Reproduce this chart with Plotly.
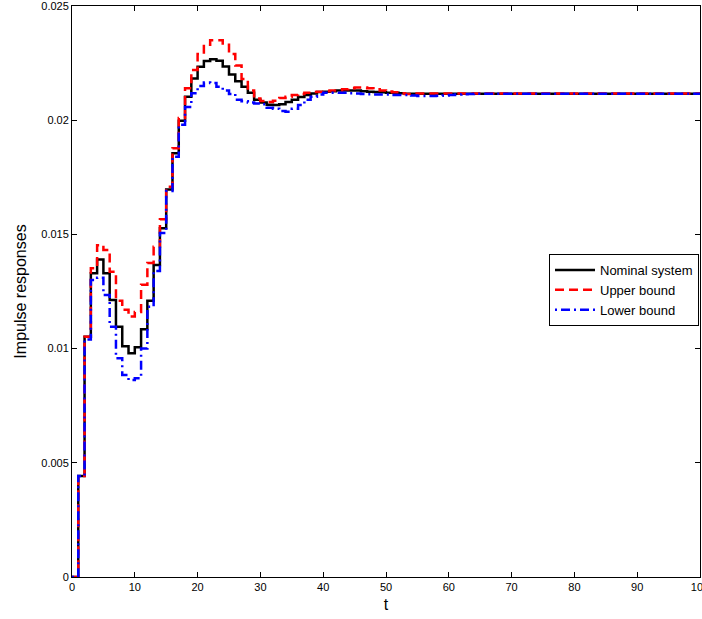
import plotly.graph_objects as go

t = list(range(0, 101))

nominal = [
    0.0, 0.00442, 0.01052, 0.0133, 0.0139, 0.0133, 0.01213, 0.01096, 0.0101, 0.0098,
    0.01006, 0.01085, 0.0121, 0.01366, 0.01527, 0.01697, 0.01855, 0.01998, 0.02103, 0.02183,
    0.02234, 0.02259, 0.02267, 0.0226, 0.02235, 0.022, 0.0217, 0.02147, 0.0212, 0.0209,
    0.02077, 0.02068, 0.02067, 0.0207, 0.0208, 0.0209, 0.02102, 0.0211, 0.02117, 0.02123,
    0.02125, 0.02127, 0.0213, 0.0213, 0.0213, 0.0213, 0.02127, 0.02125, 0.02124, 0.02122,
    0.0212, 0.0212, 0.02118, 0.02116, 0.02116, 0.02116, 0.02116, 0.02116, 0.02116, 0.02116,
    0.02116, 0.02116, 0.02116, 0.02116, 0.02116, 0.02116, 0.02116, 0.02116, 0.02116, 0.02116,
    0.02116, 0.02116, 0.02116, 0.02116, 0.02116, 0.02116, 0.02116, 0.02116, 0.02116, 0.02116,
    0.02116, 0.02116, 0.02116, 0.02116, 0.02116, 0.02116, 0.02116, 0.02116, 0.02116, 0.02116,
    0.02116, 0.02116, 0.02116, 0.02116, 0.02116, 0.02116, 0.02116, 0.02116, 0.02116, 0.02116,
    0.02116,
]

upper = [
    0.0, 0.00442, 0.01052, 0.01352, 0.01453, 0.01432, 0.01337, 0.0121, 0.0117, 0.0114,
    0.0116, 0.0128, 0.01375, 0.01446, 0.01566, 0.01709, 0.01877, 0.0201, 0.0214, 0.0222,
    0.0229, 0.0233, 0.0235, 0.0235, 0.0233, 0.0229, 0.0224, 0.0218, 0.0213, 0.02095,
    0.02084, 0.0208, 0.02085, 0.02097, 0.02103, 0.0211, 0.02115, 0.0212, 0.02123, 0.02125,
    0.02127, 0.0213, 0.0213, 0.02135, 0.0214, 0.02143, 0.02143, 0.0214, 0.02135, 0.0213,
    0.02126, 0.02122, 0.02118, 0.02115, 0.02117, 0.02117, 0.02117, 0.02117, 0.02117, 0.02117,
    0.02117, 0.02117, 0.02117, 0.02117, 0.02117, 0.02117, 0.02117, 0.02117, 0.02117, 0.02117,
    0.02117, 0.02117, 0.02117, 0.02117, 0.02117, 0.02117, 0.02117, 0.02117, 0.02117, 0.02117,
    0.02117, 0.02117, 0.02117, 0.02117, 0.02117, 0.02117, 0.02117, 0.02117, 0.02117, 0.02117,
    0.02117, 0.02117, 0.02117, 0.02117, 0.02117, 0.02117, 0.02117, 0.02117, 0.02117, 0.02117,
    0.02117,
]

lower = [
    0.0, 0.00442, 0.0104, 0.0130, 0.0131, 0.01235, 0.01096, 0.00958, 0.00884, 0.00862,
    0.0087, 0.0100, 0.01183, 0.0134, 0.01506, 0.0169, 0.0184, 0.0198, 0.02058, 0.02118,
    0.0215, 0.02165, 0.02163, 0.02147, 0.0213, 0.02115, 0.0209, 0.02083, 0.02078, 0.02073,
    0.0207, 0.02055, 0.0205, 0.0204, 0.02037, 0.0205, 0.02067, 0.0209, 0.02103, 0.02112,
    0.0212, 0.0212, 0.0212, 0.0212, 0.02118, 0.02117, 0.02115, 0.02114, 0.02113, 0.02112,
    0.02112, 0.0211, 0.0211, 0.0211, 0.02108, 0.02106, 0.02106, 0.02106, 0.02107, 0.02108,
    0.0211, 0.02112, 0.02114, 0.02115, 0.02116, 0.02116, 0.02116, 0.02116, 0.02116, 0.02116,
    0.02116, 0.02116, 0.02116, 0.02116, 0.02116, 0.02116, 0.02116, 0.02116, 0.02116, 0.02116,
    0.02116, 0.02116, 0.02116, 0.02116, 0.02116, 0.02116, 0.02116, 0.02116, 0.02116, 0.02116,
    0.02116, 0.02116, 0.02116, 0.02116, 0.02116, 0.02116, 0.02116, 0.02116, 0.02116, 0.02116,
    0.02116,
]

x_ticks = [0, 10, 20, 30, 40, 50, 60, 70, 80, 90, 100]
y_ticks = [0, 0.005, 0.01, 0.015, 0.02, 0.025]
y_tick_text = ["0", "0.005", "0.01", "0.015", "0.02", "0.025"]

FONT = "Liberation Sans, Arial, Helvetica, sans-serif"

fig = go.Figure()
fig.add_trace(go.Scatter(x=t, y=nominal, mode="lines", name="Nominal system",
                         line=dict(color="black", width=2.5, shape="hv")))
fig.add_trace(go.Scatter(x=t, y=upper, mode="lines", name="Upper bound",
                         line=dict(color="#ff0000", width=2.5, shape="hv", dash="9px,5px")))
fig.add_trace(go.Scatter(x=t, y=lower, mode="lines", name="Lower bound",
                         line=dict(color="#0000ff", width=2.5, shape="hv", dash="2px,4px,9px,4px")))

axis_common = dict(showgrid=False, zeroline=False, showline=True, linecolor="black",
                   linewidth=1, mirror="ticks", ticks="inside", ticklen=5, tickwidth=1,
                   tickcolor="black", ticklabeloverflow="allow", automargin=False,
                   tickfont=dict(family=FONT, size=11, color="black"))

fig.update_xaxes(range=[0, 100], tickvals=x_ticks,
                 title=dict(text="t", font=dict(family=FONT, size=16, color="black"), standoff=6),
                 **axis_common)
fig.update_yaxes(range=[0, 0.025], tickvals=y_ticks, ticktext=y_tick_text,
                 title=dict(text="Impulse responses", font=dict(family=FONT, size=16, color="black"), standoff=10),
                 **axis_common)

fig.update_layout(
    width=702, height=619,
    margin=dict(l=72, r=2, t=6, b=42),
    paper_bgcolor="white", plot_bgcolor="white",
    font=dict(family=FONT, size=11, color="black"),
    legend=dict(x=(699 - 72) / 628, xanchor="right", y=(577 - 290) / 571, yanchor="middle",
                bgcolor="white", bordercolor="black", borderwidth=1,
                font=dict(family=FONT, size=13, color="black"),
                tracegroupgap=0, itemwidth=40, entrywidth=156),
    showlegend=True,
)

fig.write_html("out.html")
